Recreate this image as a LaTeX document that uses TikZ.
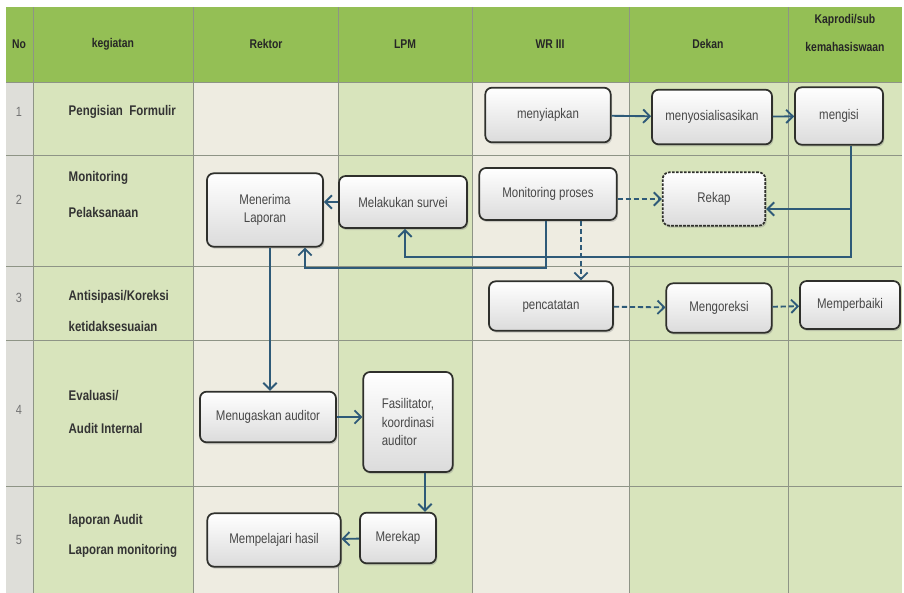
\documentclass[tikz,border=0pt]{standalone}
\usepackage{fontspec}
\setmainfont{Liberation Sans}[FakeStretch=0.82]
\usepackage{xcolor}
\usetikzlibrary{positioning,arrows.meta,calc,shadows}
\definecolor{hdrGreen}{HTML}{94BF55}
\definecolor{cellGreen}{HTML}{D8E4BC}
\definecolor{cellCream}{HTML}{EEECE1}
\definecolor{cellGray}{HTML}{DEDED9}
\definecolor{gridGray}{HTML}{8E9486}
\definecolor{flowBlue}{HTML}{2E5A78}
\definecolor{boxEdge}{HTML}{2F302C}

\tikzset{
  proc/.style={draw=boxEdge, line width=1.3pt, rounded corners=5pt, top color=white, bottom color=gray!28,
    drop shadow={shadow xshift=1pt, shadow yshift=-1.5pt, opacity=.35}, align=center,
    text=black!72, font=\fontsize{10.5}{14}\selectfont, inner sep=2pt},
  flow/.style={draw=flowBlue, line width=1.4pt, -{Straight Barb[length=5pt,width=10pt,line width=1.4pt]}},
  dflow/.style={flow, dash pattern=on 4pt off 2pt},
  hdr/.style={font=\fontsize{9.5}{11}\bfseries, text=black!85},
  act/.style={anchor=west, font=\fontsize{10.5}{12}\bfseries, text=black!80},
  num/.style={font=\fontsize{10}{12}\selectfont, text=black!55}
}

\begin{document}
\begin{tikzpicture}[x=0.75pt, y=-0.75pt]
\useasboundingbox (0,0) rectangle (904,593);
% table cells
\foreach \xa/\xb/\cl in {6/33/cellGray, 33/193/cellGreen, 193/338/cellCream, 338/472/cellGreen, 472/629/cellCream, 629/788/cellGreen, 788/902/cellGreen}
  \fill[\cl] (\xa,82) rectangle (\xb,593);
\fill[hdrGreen] (6,7) rectangle (902,82);
\foreach \yy in {82,155,266,340,486}
  \draw[gridGray, line width=0.7pt] (6,\yy) -- (902,\yy);
\foreach \xx in {33,193,338,472,629,788}
  \draw[gridGray, line width=0.5pt] (\xx,7) -- (\xx,593);

% header
\node[hdr] (hNo) at (19,44) {No};
\node[hdr] (hKeg) at (113,44) {kegiatan};
\node[hdr] (hRek) at (266,44) {Rektor};
\node[hdr] (hLpm) at (405,44) {LPM};
\node[hdr] (hWr) at (550,44) {WR III};
\node[hdr] (hDek) at (708,44) {Dekan};
\node[hdr, align=center, font=\fontsize{9.5}{21}\bfseries] (hKap) at (845,33) {Kaprodi/sub\\kemahasiswaan};

% rows
\node[num] (n1) at (19,112) {1};
\node[num] (n2) at (19,200) {2};
\node[num] (n3) at (19,298) {3};
\node[num] (n4) at (19,410) {4};
\node[num] (n5) at (19,540) {5};
\node[act] (a1) at (64,112) {Pengisian\ \ Formulir};
\node[act] (a2a) at (64,178) {Monitoring};
\node[act] (a2b) at (64,212) {Pelaksanaan};
\node[act] (a3a) at (64,297) {Antisipasi/Koreksi};
\node[act] (a3b) at (64,326) {ketidaksesuaian};
\node[act] (a4a) at (64,396) {Evaluasi/};
\node[act] (a4b) at (64,428) {Audit Internal};
\node[act] (a5a) at (64,521) {laporan Audit};
\node[act] (a5b) at (64,551) {Laporan monitoring};

% process boxes
\node[proc, minimum width=94pt, minimum height=41pt] (siap) at (548,115) {menyiapkan};
\node[proc, minimum width=90pt, minimum height=41pt] (sosial) at (712,117) {menyosialisasikan};
\node[proc, minimum width=66pt, minimum height=43pt] (isi) at (839,116) {mengisi};
\node[proc, minimum width=87pt, minimum height=55pt] (terima) at (265,210) {Menerima\\Laporan};
\node[proc, minimum width=96pt, minimum height=39pt] (survei) at (403,202) {Melakukan survei};
\node[proc, minimum width=103pt, minimum height=39pt] (monitor) at (548,194) {Monitoring proses};
\node[proc, minimum width=77pt, minimum height=40pt, dash pattern=on 2pt off 1pt] (rekap) at (714,199) {Rekap};
\node[proc, minimum width=93pt, minimum height=37pt] (catat) at (551,306) {pencatatan};
\node[proc, minimum width=79pt, minimum height=37pt] (koreksi) at (719,308) {Mengoreksi};
\node[proc, minimum width=75pt, minimum height=36pt] (baiki) at (850,305) {Memperbaiki};
\node[proc, minimum width=102pt, minimum height=38pt] (tugas) at (268,417) {Menugaskan auditor};
\node[proc, minimum width=67pt, minimum height=75pt, align=left] (fasil) at (408,422) {Fasilitator,\\koordinasi\\auditor};
\node[proc, minimum width=100pt, minimum height=40pt] (pelajari) at (274,540) {Mempelajari hasil};
\node[proc, minimum width=57pt, minimum height=38pt] (rekap2) at (398,538) {Merekap};

% route corners
\coordinate (k1) at (851,209);
\coordinate (k2) at (851,257);
\coordinate (k3) at (405,257);
\coordinate (m1) at (546,268);
\coordinate (m2) at (305,268);
\coordinate (d1) at (581,0);
\coordinate (t1) at (270,0);
\coordinate (f1) at (425,0);

% connectors
\draw[flow] (siap) -- (sosial);
\draw[flow] (sosial) -- (isi);
\draw[flow] (isi.south -| k1) -- (k1) -- (k1 -| rekap.east);
\draw[flow] (k1) -- (k2) -- (k3) -- (k3 |- survei.south);
\draw[flow] (monitor.south -| m1) -- (m1) -- (m2) -- (m2 |- terima.south);
\draw[dflow] (monitor.east |- rekap.west) -- (rekap.west);
\draw[dflow] (monitor.south -| d1) -- (catat.north -| d1);
\draw[flow] (survei.west) -- (survei.west -| terima.east);
\draw[dflow] (catat) -- (koreksi);
\draw[dflow] (koreksi) -- (baiki);
\draw[flow] (terima.south -| t1) -- (tugas.north -| t1);
\draw[flow] (tugas.east) -- (tugas.east -| fasil.west);
\draw[flow] (fasil.south -| f1) -- (rekap2.north -| f1);
\draw[flow] (rekap2) -- (pelajari);
\end{tikzpicture}
\end{document}
